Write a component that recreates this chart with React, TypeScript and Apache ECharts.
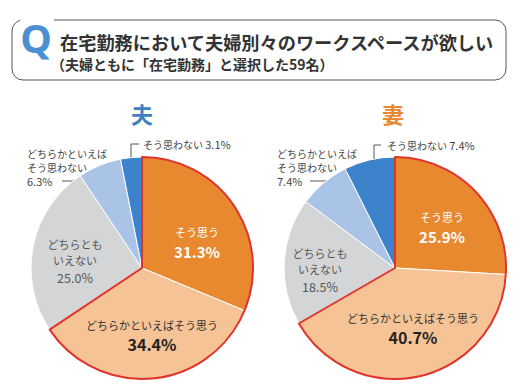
import React, { useEffect, useRef } from "react";
import * as echarts from "echarts";

const categories = ["そう思う", "どちらかといえばそう思う", "どちらともいえない", "どちらかといえばそう思わない", "そう思わない"];
const labelNames = ["そう思う", "どちらかといえばそう思う", "どちらとも\nいえない", "どちらかといえば\nそう思わない", "そう思わない"];
const husbandValues = [31.3, 34.4, 25.0, 6.3, 3.1];
const wifeValues = [25.9, 40.7, 18.5, 7.4, 7.4];
const pieTitles = ["夫", "妻"];
const titleText = "在宅勤務において夫婦別々のワークスペースが欲しい";
const subtitleText = "（夫婦ともに「在宅勤務」と選択した59名）";

const sliceColors = ["#E8882F", "#F5C395", "#D4D5D7", "#A9C4E7", "#3C83CB"];
const FONT = "'Noto Sans CJK JP', 'Noto Sans', sans-serif";

type Pos = { x: number; y: number; align: string; line?: number[][] };

const leftLabelPos: Pos[] = [
  { x: 197, y: 242, align: "center" },
  { x: 152, y: 335, align: "center" },
  { x: 75, y: 261, align: "center" },
  { x: 27, y: 167, align: "left", line: [[106, 181], [84, 181], [62, 181]] },
  { x: 143, y: 144, align: "left", line: [[131, 160], [131, 144], [139, 144]] },
];
const rightLabelPos: Pos[] = [
  { x: 442, y: 227, align: "center" },
  { x: 413, y: 328, align: "center" },
  { x: 320, y: 270, align: "center" },
  { x: 277, y: 167, align: "left", line: [[336, 181], [323, 181], [310, 181]] },
  { x: 387, y: 145, align: "left", line: [[374, 168], [374, 145], [381, 145]] },
];

function formatLabel(params: any) {
  const idx = params.dataIndex;
  const pct = Number(params.value).toFixed(1) + "%";
  const names = labelNames[idx].split("\n");
  if (idx === 0) return `{wn|${names[0]}}\n{wp|${pct}}`;
  if (idx === 1) return `{dn|${names[0]}}\n{dp|${pct}}`;
  if (idx === 2) return names.map((n) => `{gn|${n}}`).join("\n") + `\n{gp|${pct}}`;
  if (idx === 3) return names.map((n) => `{on|${n}}`).join("\n") + `\n{op|${pct}}`;
  return `{on|${names[0]} }{op|${pct}}`;
}

const rich = {
  wn: { color: "#fff", fontSize: 11, lineHeight: 18, fontFamily: FONT },
  wp: { color: "#fff", fontSize: 15, fontWeight: "bold", lineHeight: 20, fontFamily: FONT },
  dn: { color: "#333", fontSize: 11, lineHeight: 18, fontFamily: FONT },
  dp: { color: "#222", fontSize: 16, fontWeight: "bold", lineHeight: 21, fontFamily: FONT },
  gn: { color: "#555", fontSize: 11, lineHeight: 16, fontFamily: FONT },
  gp: { color: "#555", fontSize: 12.5, lineHeight: 18, fontFamily: FONT },
  on: { color: "#444", fontSize: 10, lineHeight: 14, fontFamily: FONT },
  op: { color: "#444", fontSize: 11, lineHeight: 14, fontFamily: FONT },
};

function mainPie(values: number[], center: number[], positions: Pos[]) {
  return {
    type: "pie",
    center,
    radius: 111,
    startAngle: 90,
    clockwise: true,
    avoidLabelOverlap: false,
    silent: true,
    itemStyle: { borderColor: "#fff", borderWidth: 1 },
    label: { show: true, position: "outside", formatter: formatLabel, rich },
    labelLine: { show: true, lineStyle: { color: "#555", width: 1 } },
    labelLayout: (p: any) => {
      const pos = positions[p.dataIndex];
      const out: any = { x: pos.x, y: pos.y, align: pos.align, verticalAlign: "middle" };
      if (pos.line) out.labelLinePoints = pos.line;
      return out;
    },
    data: values.map((v, i) => ({
      name: categories[i],
      value: v,
      itemStyle: { color: sliceColors[i] },
      labelLine: { show: i >= 3 },
    })),
  };
}

function outlinePie(values: number[], center: number[]) {
  const agree = values[0] + values[1];
  const rest = values.slice(2).reduce((a, b) => a + b, 0);
  return {
    type: "pie",
    center,
    radius: 111,
    startAngle: 90,
    clockwise: true,
    silent: true,
    label: { show: false },
    labelLine: { show: false },
    data: [
      { value: agree, itemStyle: { color: "rgba(0,0,0,0)", borderColor: "#E0332B", borderWidth: 2 } },
      { value: rest, itemStyle: { color: "rgba(0,0,0,0)", borderWidth: 0 } },
    ],
  };
}

export default function App() {
  const ref = useRef<HTMLDivElement>(null);
  useEffect(() => {
    if (!ref.current) return;
    const chart = echarts.init(ref.current, null, { renderer: "svg" });
    const leftC = [142, 268];
    const rightC = [395, 268];
    chart.setOption({
      animation: false,
      backgroundColor: "#fff",
      graphic: [
        { type: "rect", shape: { x: 12, y: 20, width: 494, height: 60, r: 11 }, style: { fill: "none", stroke: "#555", lineWidth: 1 } },
        { type: "rect", shape: { x: 20, y: 14, width: 34, height: 12 }, style: { fill: "#fff" } },
        { type: "text", x: 36, y: 37, style: { text: "Q", fill: "#4A90D2", fontSize: 40, fontWeight: "bold", fontFamily: "'Noto Sans', sans-serif", align: "center", verticalAlign: "middle" } },
        { type: "text", x: 60, y: 42, style: { text: titleText, fill: "#333", fontSize: 18.2, fontWeight: "bold", fontFamily: FONT, verticalAlign: "middle" } },
        { type: "text", x: 51, y: 64, style: { text: subtitleText, fill: "#333", fontSize: 14, fontWeight: "bold", fontFamily: FONT, verticalAlign: "middle" } },
        { type: "text", x: leftC[0], y: 113, style: { text: pieTitles[0], fill: "#3C80C2", fontSize: 22, fontWeight: "bold", fontFamily: FONT, align: "center", verticalAlign: "middle" } },
        { type: "text", x: rightC[0] - 2, y: 113, style: { text: pieTitles[1], fill: "#E8882F", fontSize: 22, fontWeight: "bold", fontFamily: FONT, align: "center", verticalAlign: "middle" } },
      ],
      series: [
        mainPie(husbandValues, leftC, leftLabelPos),
        mainPie(wifeValues, rightC, rightLabelPos),
        outlinePie(husbandValues, leftC),
        outlinePie(wifeValues, rightC),
      ],
    });
    return () => chart.dispose();
  }, []);
  return <div ref={ref} style={{ position: "fixed", left: 0, top: 0, width: 520, height: 392 }} />;
}
